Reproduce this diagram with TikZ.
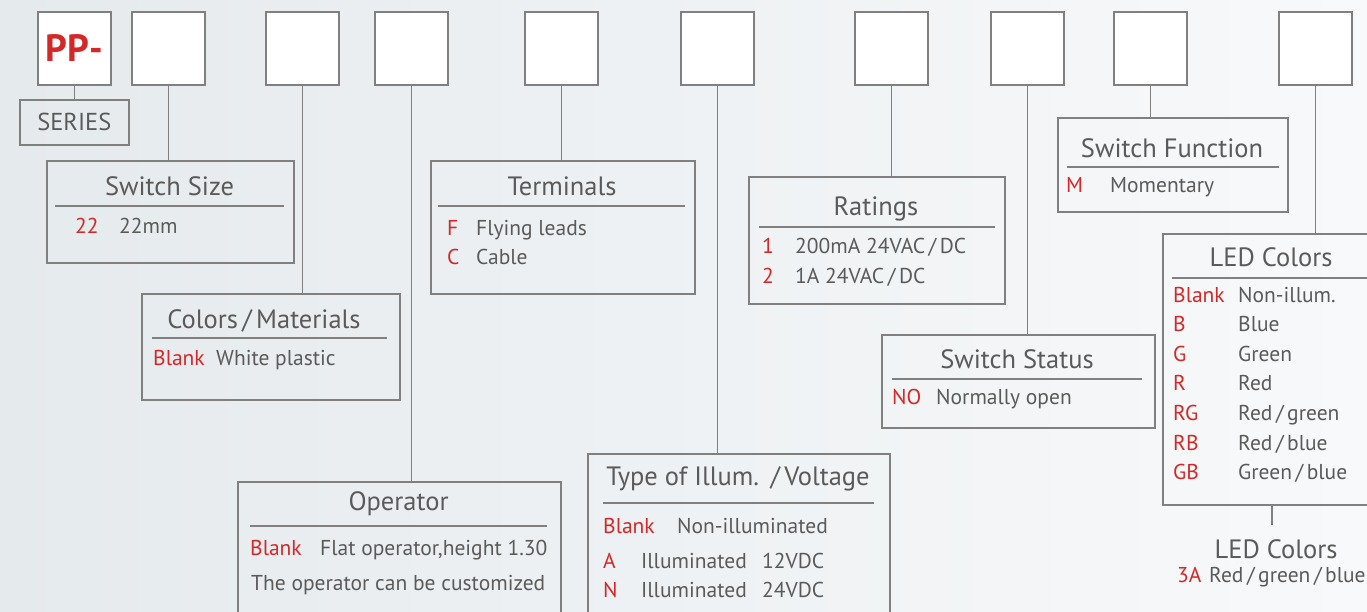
\documentclass[tikz,border=0pt]{standalone}
\usepackage{fontspec}
\setmainfont{PT Sans}
\usetikzlibrary{positioning}

\definecolor{framegray}{RGB}{128,128,128}
\definecolor{textgray}{RGB}{90,90,90}
\definecolor{codered}{RGB}{212,40,40}
\definecolor{bgleft}{RGB}{229,234,237}
\definecolor{bgright}{RGB}{248,249,250}

\begin{document}
\begin{tikzpicture}[
    x=1pt, y=-1pt,
    every node/.style={inner sep=0pt, text=textgray},
    codebox/.style={draw=framegray, line width=1.6pt, fill=white,
      minimum width=73pt, minimum height=73pt, anchor=north west},
    infobox/.style={draw=framegray, line width=1.6pt, anchor=north west},
    boxtitle/.style={anchor=base, font=\fontsize{26.5}{30}\selectfont},
    entry/.style={anchor=base west, font=\fontsize{21.5}{24}\selectfont},
    code/.style={entry, text=codered},
    rule/.style={draw=framegray, line width=1.3pt},
    link/.style={draw=framegray, line width=1.6pt}
  ]

    \clip (0,0) rectangle (1367,611);
    \fill[left color=bgleft, right color=bgright] (0,0) rectangle (1367,611);

    % Top row: code boxes
    \foreach \n/\x in {1/37, 2/131, 3/265, 4/374, 5/524, 6/680, 7/854, 8/990, 9/1113, 10/1278}
      \node[codebox] (c\n) at (\x,11) {};
    \node[text=codered, font=\fontsize{38}{42}\bfseries] (pp) at (c1.center) {PP-};

    % Series
    \node[infobox, minimum width=109pt, minimum height=45pt,
      font=\fontsize{24.5}{28}\selectfont] (series) at (19,99) {SERIES};

    % Switch size
    \node[infobox, minimum width=247pt, minimum height=102pt] (size) at (46,160) {};
    \node[boxtitle] (sizet) at (169.5,195) {Switch Size};
    \draw[rule] (55,206) -- (284,206);
    \node[code] (size22) at (75,233) {22};
    \node[entry] (size22d) at (119,233) {22mm};

    % Colors / materials
    \node[infobox, minimum width=258pt, minimum height=106pt] (mat) at (141,293) {};
    \node[boxtitle] (matt) at (264,328) {Colors\,/\,Materials};
    \draw[rule] (152,338) -- (387,338);
    \node[code] (matb) at (153,365) {Blank};
    \node[entry] (matbd) at (216,365) {White plastic};

    % Operator
    \node[infobox, minimum width=323pt, minimum height=150pt] (oper) at (237,481) {};
    \node[boxtitle] (opert) at (398.5,510) {Operator};
    \draw[rule] (250,526) -- (547,526);
    \node[code] (operb) at (250,555) {Blank};
    \node[entry] (operbd) at (320,555) {Flat operator,height 1.30};
    \node[entry] (opernote) at (251,590) {The operator can be customized};

    % Terminals
    \node[infobox, minimum width=264pt, minimum height=133pt] (term) at (430,160) {};
    \node[boxtitle] (termt) at (562,195) {Terminals};
    \draw[rule] (438,206) -- (685,206);
    \node[code] (termf) at (447,235) {F};
    \node[entry] (termfd) at (476,235) {Flying leads};
    \node[code] (termc) at (447,264) {C};
    \node[entry] (termcd) at (476,264) {Cable};

    % Type of illumination / voltage
    \node[infobox, minimum width=302pt, minimum height=180pt] (illum) at (587,453) {};
    \node[boxtitle] (illumt) at (738,485) {Type of Illum.\ \,/\,Voltage};
    \draw[rule] (603,503) -- (874,503);
    \node[code] (illumb) at (603,533) {Blank};
    \node[entry] (illumbd) at (677,533) {Non-illuminated};
    \node[code] (illuma) at (603,568) {A};
    \node[entry] (illumad) at (641,568) {Illuminated};
    \node[entry] (illumav) at (762,568) {12VDC};
    \node[code] (illumn) at (603,597) {N};
    \node[entry] (illumnd) at (641,597) {Illuminated};
    \node[entry] (illumnv) at (762,597) {24VDC};

    % Ratings
    \node[infobox, minimum width=256pt, minimum height=127pt] (rate) at (748,176) {};
    \node[boxtitle] (ratet) at (876,215) {Ratings};
    \draw[rule] (759,227) -- (995,227);
    \node[code] (rate1) at (762,253) {1};
    \node[entry] (rate1d) at (795,253) {200mA 24VAC\,/\,DC};
    \node[code] (rate2) at (762,283) {2};
    \node[entry] (rate2d) at (795,283) {1A 24VAC\,/\,DC};

    % Switch status
    \node[infobox, minimum width=273pt, minimum height=93pt] (stat) at (881,334) {};
    \node[boxtitle] (statt) at (1017,368) {Switch Status};
    \draw[rule] (892,379) -- (1142,379);
    \node[code] (statno) at (892,404) {NO};
    \node[entry] (statnod) at (936,404) {Normally open};

    % Switch function
    \node[infobox, minimum width=230pt, minimum height=94pt] (func) at (1057,117) {};
    \node[boxtitle] (funct) at (1172,157) {Switch Function};
    \draw[rule] (1067,167) -- (1279,167);
    \node[code] (funcm) at (1066,192) {M};
    \node[entry] (funcmd) at (1110,192) {Momentary};

    % LED colors
    \node[infobox, minimum width=218pt, minimum height=271pt] (led) at (1162,233) {};
    \node[boxtitle] (ledt) at (1271,266) {LED Colors};
    \draw[rule] (1172,278) -- (1380,278);
    \foreach \k/\cd/\txt [count=\i from 0] in {blank/Blank/Non-illum., b/B/Blue, g/G/Green,
        r/R/Red, rg/RG/{Red\,/\,green}, rb/RB/{Red\,/\,blue}, gb/GB/{Green\,/\,blue}} {
      \node[code] (led\k) at (1173,302+29.6*\i) {\cd};
      \node[entry] (led\k d) at (1238,302+29.6*\i) {\txt};
    }
    \node[boxtitle] (ledsub) at (1276,558) {LED Colors};
    \node[code] (led3a) at (1177,582) {3A};
    \node[entry] (led3ad) at (1209,582) {Red\,/\,green\,/\,blue};

    % Connectors
    \draw[link] (c1.south) -- (c1.south |- series.north);
    \draw[link] (c2.south) -- (c2.south |- size.north);
    \draw[link] (c3.south) -- (c3.south |- mat.north);
    \draw[link] (c4.south) -- (c4.south |- oper.north);
    \draw[link] (c5.south) -- (c5.south |- term.north);
    \draw[link] (c6.south) -- (c6.south |- illum.north);
    \draw[link] (c7.south) -- (c7.south |- rate.north);
    \draw[link] (c8.south) -- (c8.south |- stat.north);
    \draw[link] (c9.south) -- (c9.south |- func.north);
    \draw[link] (c10.south) -- (c10.south |- led.north);
    \draw[link] (led.south) -- ([yshift=14pt]led.south |- ledsub.north);

  \end{tikzpicture}
\end{document}
